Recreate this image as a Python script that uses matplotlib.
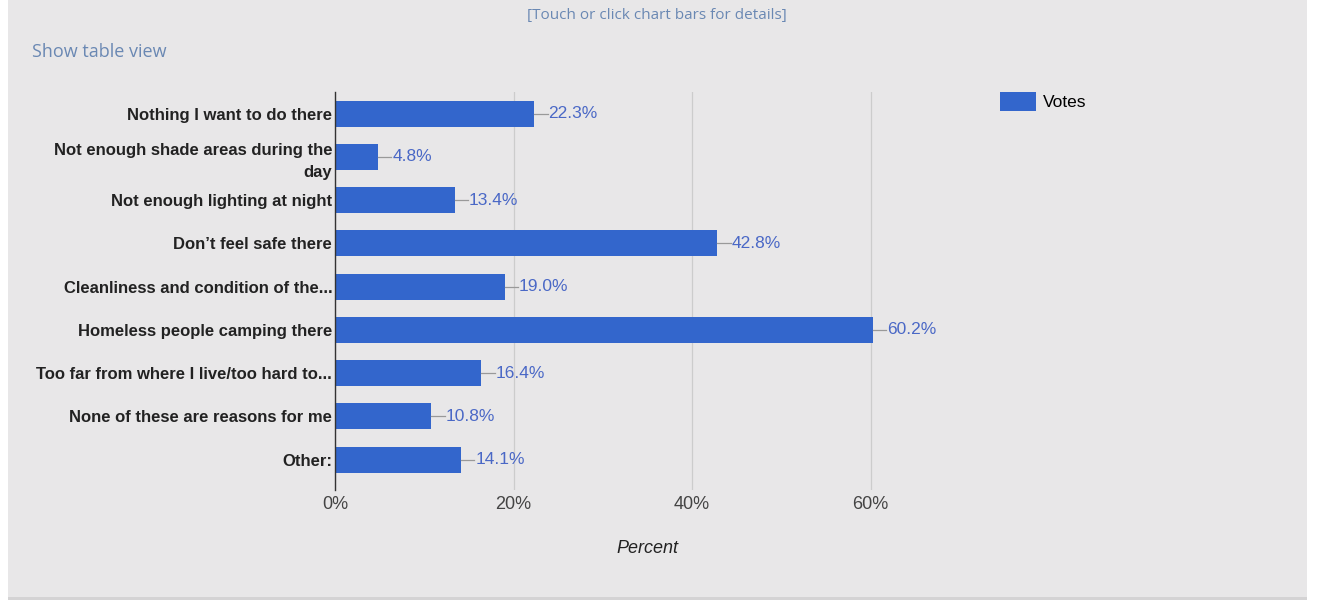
import numpy as np
import matplotlib.pyplot as plt
from matplotlib.patches import Rectangle, Patch

# data
categories = [
    'Nothing I want to do there',
    'Not enough shade areas during the\nday',
    'Not enough lighting at night',
    'Don\u2019t feel safe there',
    'Cleanliness and condition of the...',
    'Homeless people camping there',
    'Too far from where I live/too hard to...',
    'None of these are reasons for me',
    'Other:',
]
votes = [22.3, 4.8, 13.4, 42.8, 19.0, 60.2, 16.4, 10.8, 14.1]
xticks = [0, 20, 40, 60]
xtick_labels = ['0%', '20%', '40%', '60%']

bar_color = '#3366cc'
label_color = '#4a68c6'
bg = '#e8e7e8'

fig = plt.figure(figsize=(13.23, 6.0), dpi=100, facecolor='white')
# grey panel behind everything
fig.patches.append(Rectangle((8 / 1323, 3 / 600), 1299 / 1323, 597 / 600,
                             transform=fig.transFigure, facecolor=bg,
                             edgecolor='none', zorder=-10))
fig.patches.append(Rectangle((8 / 1323, 0), 1299 / 1323, 3 / 600,
                             transform=fig.transFigure, facecolor='#d4d3d4',
                             edgecolor='none', zorder=-10))

ax = fig.add_axes([335 / 1323, 110 / 600, 625 / 1323, 398 / 600])
ax.set_facecolor('none')

y = np.arange(len(categories))
ax.barh(y, votes, height=0.6, color=bar_color, zorder=3)

# value labels with short leader line
for yi, v in zip(y, votes):
    ax.plot([v, v + 1.5], [yi, yi], color='#999999', lw=0.9, zorder=4)
    ax.text(v + 1.6, yi, f'{v:.1f}%', va='center', ha='left',
            fontsize=12.5, color=label_color, family='Liberation Sans')

ax.set_xlim(0, 70)
ax.set_ylim(8.7, -0.5)
ax.set_yticks(y)
ax.set_yticklabels(categories, fontsize=12, fontweight='bold',
                   color='#222222', family='Liberation Sans',
                   linespacing=1.55)
ax.set_xticks(xticks)
ax.set_xticklabels(xtick_labels, fontsize=13, color='#444444',
                   family='Liberation Sans')
ax.tick_params(axis='both', length=0)
ax.tick_params(axis='y', pad=2)
ax.tick_params(axis='x', pad=4)

for s in ['top', 'right', 'bottom']:
    ax.spines[s].set_visible(False)
ax.spines['left'].set_color('#333333')
ax.spines['left'].set_linewidth(1.0)
ax.spines['left'].set_zorder(5)

ax.grid(axis='x', color='#cccccc', linewidth=0.9, zorder=0)
ax.axvline(70, color='#dddddd', linewidth=0.6, zorder=0)

ax.set_xlabel('Percent', fontsize=13, style='italic', color='#222222',
              family='Liberation Sans', labelpad=20)

# legend
ax.legend(handles=[Patch(facecolor=bar_color, label='Votes')],
          loc='upper left', bbox_to_anchor=(1.039, 1.04),
          frameon=False, handlelength=2.05, handleheight=1.3,
          handletextpad=0.4,
          prop={'family': 'Liberation Sans', 'size': 12.5})

fig.text(657 / 1323, 1 - 16 / 600, '[Touch or click chart bars for details]',
         ha='center', va='center', fontsize=11, color='#6a88b3',
         family='Open Sans')
fig.text(32 / 1323, 1 - 52 / 600, 'Show table view', ha='left', va='center',
         fontsize=13, color='#6a88b3', family='Open Sans')

fig.savefig('out.png', dpi=100, facecolor=fig.get_facecolor())
